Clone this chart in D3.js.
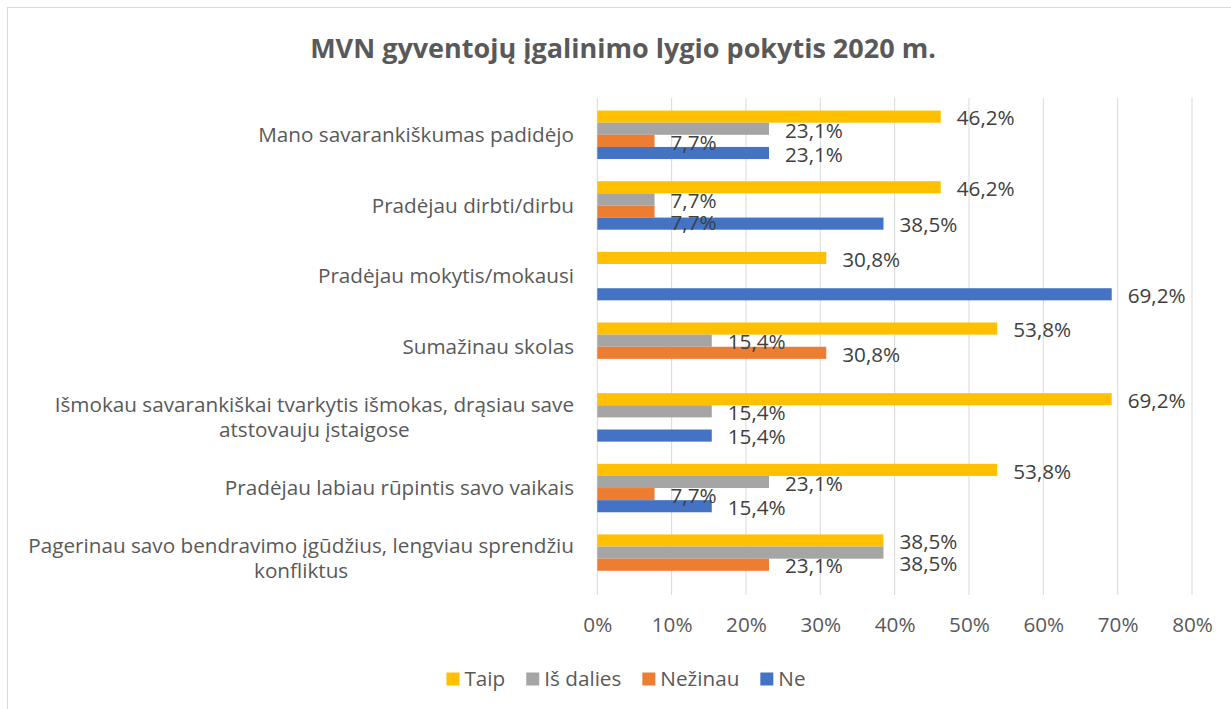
<!DOCTYPE html>
<html>
<head>
<meta charset="utf-8">
<script src="https://cdn.jsdelivr.net/npm/d3@7"></script>
<style>
  html, body { margin: 0; padding: 0; background: #fff; }
  svg { display: block; }
  text { font-family: "Open Sans", Lato, sans-serif; }
</style>
</head>
<body>
<svg id="chart" width="1231" height="709"></svg>
<script>
// ---- Data ----
const title = "MVN gyventojų įgalinimo lygio pokytis 2020 m.";
const categories = [
  "Mano savarankiškumas padidėjo",
  "Pradėjau dirbti/dirbu",
  "Pradėjau mokytis/mokausi",
  "Sumažinau skolas",
  "Išmokau savarankiškai tvarkytis išmokas, drąsiau save\natstovauju įstaigose",
  "Pradėjau labiau rūpintis savo vaikais",
  "Pagerinau savo bendravimo įgūdžius, lengviau sprendžiu\nkonfliktus"
];
const seriesNames = ["Taip", "Iš dalies", "Nežinau", "Ne"];
const taip     = [46.2, 46.2, 30.8, 53.8, 69.2, 53.8, 38.5];
const isDalies = [23.1,  7.7,  0,   15.4, 15.4, 23.1, 38.5];
const nezinau  = [ 7.7,  7.7,  0,   30.8,  0,    7.7, 23.1];
const ne       = [23.1, 38.5, 69.2,  0,   15.4, 15.4,  0];
const xTicks = [0, 10, 20, 30, 40, 50, 60, 70, 80];
const colors = ["#FFC000", "#A5A5A5", "#ED7D31", "#4472C4"];

const seriesValues = [taip, isDalies, nezinau, ne];

const FS = 20.7;
const svg = d3.select("#chart");

// chart frame
svg.append("rect")
  .attr("x", 7.5).attr("y", 7.5)
  .attr("width", 1300).attr("height", 800)
  .attr("fill", "#fff").attr("stroke", "#d9d9d9").attr("stroke-width", 1);

// title
svg.append("text")
  .attr("x", 623).attr("y", 58)
  .attr("text-anchor", "middle")
  .attr("font-size", 27).attr("font-weight", "bold")
  .attr("fill", "#595959")
  .text(title);

const x = d3.scaleLinear().domain([0, 80]).range([597.3, 1192]);
const y0 = d3.scaleBand().domain(categories).range([99.5, 594])
  .paddingInner(0.314).paddingOuter(0.157);
const y1 = d3.scaleBand().domain(seriesNames).range([0, y0.bandwidth()]);

// gridlines
svg.append("g").selectAll("line").data(xTicks).join("line")
  .attr("x1", d => x(d)).attr("x2", d => x(d))
  .attr("y1", 98).attr("y2", 595)
  .attr("stroke", "#d9d9d9").attr("stroke-width", 1);

// x axis tick labels (via d3 axis)
const xAxis = d3.axisBottom(x).tickValues(xTicks).tickFormat(d => d + "%").tickSize(0).tickPadding(0);
const gx = svg.append("g").attr("transform", "translate(0,617)").call(xAxis);
gx.select(".domain").remove();
gx.selectAll("text").attr("font-size", FS).attr("fill", "#595959")
  .attr("font-family", "'Open Sans', sans-serif").attr("dy", "0.71em");

// bars
const rows = [];
categories.forEach((c, i) => {
  seriesNames.forEach((s, j) => {
    rows.push({ cat: c, ser: s, si: j, v: seriesValues[j][i] });
  });
});

svg.append("g").selectAll("rect").data(rows.filter(d => d.v > 0)).join("rect")
  .attr("x", x(0))
  .attr("y", d => y0(d.cat) + y1(d.ser))
  .attr("width", d => x(d.v) - x(0))
  .attr("height", y1.bandwidth())
  .attr("fill", d => colors[d.si]);

// data labels with simple collision avoidance
const fmt = v => d3.format(".1f")(v).replace(".", ",") + "%";
const lblG = svg.append("g");
const lineH = 22;
categories.forEach((c, i) => {
  const placed = [];
  seriesNames.forEach((s, j) => {
    const v = seriesValues[j][i];
    if (!(v > 0)) return;
    const t = lblG.append("text")
      .attr("x", x(v) + 16)
      .attr("font-size", FS).attr("fill", "#404040")
      .text(fmt(v));
    const w = t.node().getComputedTextLength();
    const x0 = x(v) + 16, x1 = x0 + w;
    let yc = y0(c) + y1(s) + y1.bandwidth() / 2 + 1.5;
    placed.forEach(p => {
      if (x0 < p.x1 && x1 > p.x0 && Math.abs(yc - p.y) < lineH) {
        yc = p.y + lineH;
      }
    });
    placed.push({ x0, x1, y: yc });
    t.attr("y", yc).attr("dy", "0.35em");
  });
});

// category labels
const catG = svg.append("g");
const labelRight = 574;
categories.forEach(c => {
  const lines = c.split("\n");
  const g = catG.append("g");
  const texts = lines.map(l => g.append("text").attr("font-size", FS).attr("fill", "#595959").text(l));
  const widths = texts.map(t => t.node().getComputedTextLength());
  const maxW = d3.max(widths);
  const cx = labelRight - maxW / 2;
  const yc = y0(c) + y0.bandwidth() / 2;
  const lh = 25;
  texts.forEach((t, k) => {
    t.attr("x", cx).attr("text-anchor", "middle")
      .attr("y", yc + (k - (lines.length - 1) / 2) * lh)
      .attr("dy", "0.35em");
  });
});

// legend
const legG = svg.append("g");
const items = seriesNames.map((s, j) => {
  const t = legG.append("text").attr("font-size", FS).attr("fill", "#595959").text(s);
  return { t, w: t.node().getComputedTextLength(), j };
});
const sq = 13, gapSq = 5, gapItem = 21;
const total = d3.sum(items, d => sq + gapSq + d.w) + gapItem * (items.length - 1);
let lx = 626 - total / 2;
const ly = 679;
items.forEach(d => {
  legG.append("rect").attr("x", lx).attr("y", ly - sq / 2).attr("width", sq).attr("height", sq)
    .attr("fill", colors[d.j]);
  d.t.attr("x", lx + sq + gapSq).attr("y", ly).attr("dy", "0.35em");
  lx += sq + gapSq + d.w + gapItem;
});
</script>
</body>
</html>
